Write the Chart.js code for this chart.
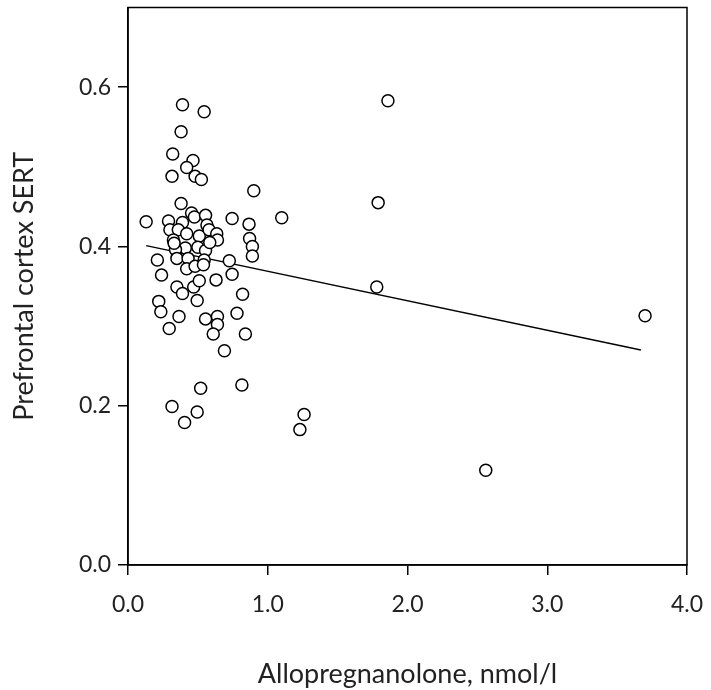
<!DOCTYPE html>
<html>
<head>
<meta charset="utf-8">
<script src="https://cdn.jsdelivr.net/npm/chart.js@4/dist/chart.umd.min.js"></script>
<style>
html,body{margin:0;padding:0;background:#fff;}
#wrap{width:711px;height:690px;position:relative;}
</style>
</head>
<body>
<div id="wrap"><canvas id="c" width="711" height="690"></canvas></div>
<script>
const allopregnanolone = [
0.13,0.39,0.545,0.38,0.32,0.465,0.42,0.315,0.48,0.525,0.90,0.38,1.79,1.86,0.455,0.475,0.555,0.745,1.10,0.29,
0.39,0.565,0.866,0.30,0.36,0.42,0.51,0.58,0.635,0.64,0.325,0.87,0.41,0.50,0.555,0.34,0.89,0.35,0.43,0.545,
0.21,0.725,0.89,0.42,0.48,0.54,0.24,0.35,0.39,0.47,0.51,0.63,0.745,0.82,0.22,0.235,0.365,0.495,0.555,0.64,
0.64,0.61,0.78,0.84,0.295,0.69,0.52,0.815,0.315,0.495,0.405,1.26,1.23,1.78,2.56,3.70,0.585,0.33
];
const prefrontalSERT = [
0.431,0.578,0.569,0.544,0.516,0.508,0.499,0.488,0.488,0.484,0.470,0.454,0.455,0.583,0.442,0.437,0.439,0.435,0.436,0.432,
0.430,0.427,0.428,0.421,0.421,0.416,0.413,0.421,0.416,0.408,0.408,0.410,0.398,0.399,0.395,0.396,0.400,0.385,0.385,0.383,
0.383,0.382,0.388,0.372,0.375,0.377,0.364,0.349,0.341,0.349,0.357,0.358,0.365,0.340,0.331,0.318,0.312,0.332,0.309,0.312,
0.302,0.290,0.316,0.290,0.297,0.269,0.222,0.226,0.199,0.192,0.179,0.189,0.170,0.349,0.119,0.313,0.405,0.404
];
const trendX = [0.13, 3.67];
const trendY = [0.401, 0.270];
const xTicks = [0, 1, 2, 3, 4];
const yTicks = [0, 0.2, 0.4, 0.6];

const pts = allopregnanolone.map((x,i)=>({x:x, y:prefrontalSERT[i]}));
const trend = trendX.map((x,i)=>({x:x, y:trendY[i]}));

const frame = {
  id:'frame',
  afterDatasetsDraw(chart){
    const a = chart.chartArea, ctx = chart.ctx;
    ctx.save();
    ctx.strokeStyle = '#000';
    ctx.lineWidth = 1.5;
    ctx.strokeRect(a.left, a.top, a.right - a.left, a.bottom - a.top);
    ctx.restore();
  }
};

const font = "Lato, 'Open Sans', sans-serif";

new Chart(document.getElementById('c'), {
  type: 'scatter',
  data: {
    datasets: [
      {
        label: 'data',
        data: pts,
        order: 0,
        pointRadius: 6,
        pointHoverRadius: 6,
        pointBackgroundColor: '#fff',
        pointBorderColor: '#000',
        pointBorderWidth: 1.5,
        showLine: false
      },
      {
        label: 'fit',
        type: 'line',
        data: trend,
        order: 1,
        borderColor: '#000',
        borderWidth: 1.5,
        pointRadius: 0,
        fill: false
      }
    ]
  },
  options: {
    responsive: false,
    animation: false,
    devicePixelRatio: 1,
    layout: { padding: { left: 0, right: 24, top: 5, bottom: 0 } },
    plugins: { legend: { display: false }, tooltip: { enabled: false } },
    scales: {
      x: {
        type: 'linear',
        min: 0, max: 4,
        afterBuildTicks(s){ s.ticks = xTicks.map(v=>({value:v})); },
        afterFit(s){ s.height = 125; s.paddingLeft = 0; s.paddingRight = 0; },
        grid: { drawOnChartArea: false, drawTicks: true, tickLength: 10, color: '#000', lineWidth: 1.5 },
        border: { color: '#000', width: 1.5 },
        ticks: { color: '#222', font: { family: font, size: 23 }, padding: 16, callback: v => v.toFixed(1) },
        title: { display: true, text: 'Allopregnanolone, nmol/l', color: '#222', font: { family: font, size: 27 }, padding: { top: 13, bottom: 0 } }
      },
      y: {
        type: 'linear',
        min: 0, max: 0.7,
        afterBuildTicks(s){ s.ticks = yTicks.map(v=>({value:v})); },
        afterFit(s){ s.width = 128; s.paddingTop = 0; s.paddingBottom = 0; },
        grid: { drawOnChartArea: false, drawTicks: true, tickLength: 10, color: '#000', lineWidth: 1.5 },
        border: { color: '#000', width: 1.5 },
        ticks: { color: '#222', font: { family: font, size: 23 }, padding: 7, callback: v => v.toFixed(1) },
        title: { display: true, text: 'Prefrontal cortex SERT', color: '#222', font: { family: font, size: 27 }, padding: { top: 8, bottom: 10 } }
      }
    }
  },
  plugins: [frame]
});
</script>
</body>
</html>
